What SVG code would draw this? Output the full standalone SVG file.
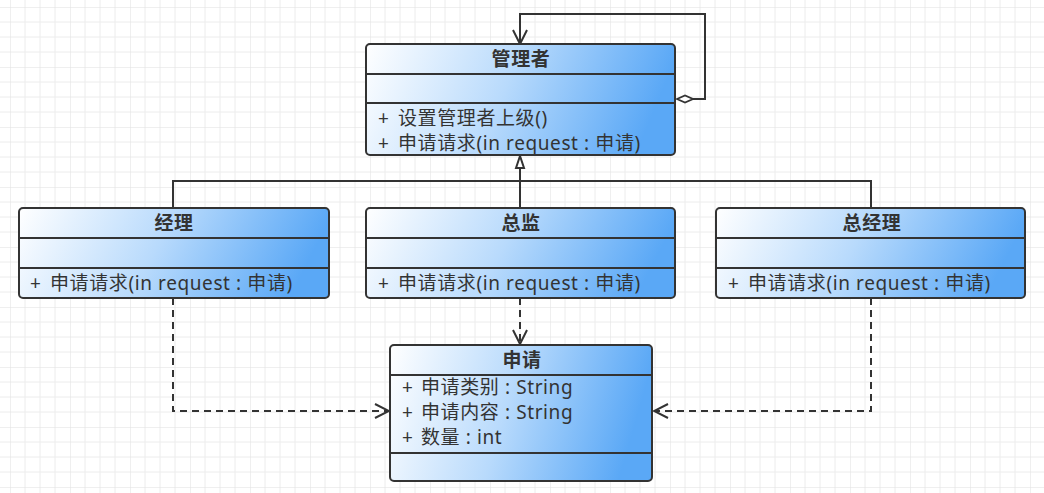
<svg xmlns="http://www.w3.org/2000/svg" width="1044" height="493" viewBox="0 0 1044 493">
<defs>
  <pattern id="grid" x="10" y="7" width="60" height="60" patternUnits="userSpaceOnUse">
    <path d="M15 0V60M30 0V60M45 0V60M0 15H60M0 30H60M0 45H60" stroke="#ececec" stroke-width="1" fill="none"/>
    <path d="M0 0V60M0 0H60" stroke="#e0e0e0" stroke-width="1" fill="none"/>
  </pattern>
  <linearGradient id="fill" x1="0" y1="0" x2="1" y2="0.15">
    <stop offset="0" stop-color="#ffffff"/>
    <stop offset="0.5" stop-color="#b8dafc"/>
    <stop offset="1" stop-color="#5aa8f6"/>
  </linearGradient>
  <marker id="open" viewBox="0 0 16 16" refX="15" refY="8" markerWidth="16" markerHeight="16" markerUnits="userSpaceOnUse" orient="auto">
    <path d="M1 1L15 8L1 15" fill="none" stroke="#333" stroke-width="2"/>
  </marker>
  <marker id="tri" viewBox="0 0 16 12" refX="14" refY="6" markerWidth="16" markerHeight="12" markerUnits="userSpaceOnUse" orient="auto">
    <path d="M2 2L14 6L2 10Z" fill="#fff" stroke="#333" stroke-width="2"/>
  </marker>
  <marker id="dia" viewBox="0 0 20 10" refX="1" refY="5" markerWidth="20" markerHeight="10" markerUnits="userSpaceOnUse" orient="auto">
    <path d="M1 5L9 1.5L17 5L9 8.5Z" fill="#fff" stroke="#333" stroke-width="1.8"/>
  </marker>
  <style>
    .box{fill:url(#fill);stroke:#333;stroke-width:2}
    .sep{stroke:#333;stroke-width:2}
    .t{font-family:"Noto Sans","Noto Sans CJK SC","Microsoft YaHei",sans-serif;font-size:19px;letter-spacing:0.6px;fill:#333}
    .h{font-weight:bold;text-anchor:middle}
    .edge{fill:none;stroke:#333;stroke-width:2}
    .dash{stroke-dasharray:7 5}
  </style>
</defs>
<rect width="1044" height="493" fill="#fff"/>
<rect width="1044" height="493" fill="url(#grid)"/>

<g id="connectors">
  <path class="edge" d="M677 99H705V14H520V44" marker-end="url(#open)" marker-start="url(#dia)"/>
  <path class="edge" d="M173 208V181H871V208"/>
  <path class="edge" d="M520 208V156" marker-end="url(#tri)"/>
  <path class="edge dash" d="M520 298V344" marker-end="url(#open)"/>
  <path class="edge dash" d="M173 298V411H389" marker-end="url(#open)"/>
  <path class="edge dash" d="M871 298V411H654" marker-end="url(#open)"/>
</g>

<g id="manager">
  <rect class="box" x="366" y="44" width="309" height="111" rx="4"/>
  <path class="sep" d="M366 74H675M366 103H675"/>
  <text class="t h" x="521" y="66">管理者</text>
  <text class="t" x="378" y="125">+<tspan x="398">设置管理者上级()</tspan></text>
  <text class="t" x="378" y="150">+<tspan x="398">申请请求(in request : 申请)</tspan></text>
</g>

<g id="jingli">
  <rect class="box" x="19" y="208" width="310" height="90" rx="4"/>
  <path class="sep" d="M19 238H329M19 268H329"/>
  <text class="t h" x="174" y="230">经理</text>
  <text class="t" x="30" y="290">+<tspan x="50">申请请求(in request : 申请)</tspan></text>
</g>

<g id="zongjian">
  <rect class="box" x="366" y="208" width="309" height="90" rx="4"/>
  <path class="sep" d="M366 238H675M366 268H675"/>
  <text class="t h" x="521" y="230">总监</text>
  <text class="t" x="378" y="290">+<tspan x="398">申请请求(in request : 申请)</tspan></text>
</g>

<g id="zongjingli">
  <rect class="box" x="716" y="208" width="309" height="90" rx="4"/>
  <path class="sep" d="M716 238H1025M716 268H1025"/>
  <text class="t h" x="872" y="230">总经理</text>
  <text class="t" x="728" y="290">+<tspan x="748">申请请求(in request : 申请)</tspan></text>
</g>

<g id="shenqing">
  <rect class="box" x="390" y="345" width="262" height="136" rx="4"/>
  <path class="sep" d="M390 375H652M390 453H652"/>
  <text class="t h" x="522" y="367">申请</text>
  <text class="t" x="402" y="394">+<tspan x="421">申请类别 : String</tspan></text>
  <text class="t" x="402" y="419">+<tspan x="421">申请内容 : String</tspan></text>
  <text class="t" x="402" y="444">+<tspan x="421">数量 : int</tspan></text>
</g>
</svg>
